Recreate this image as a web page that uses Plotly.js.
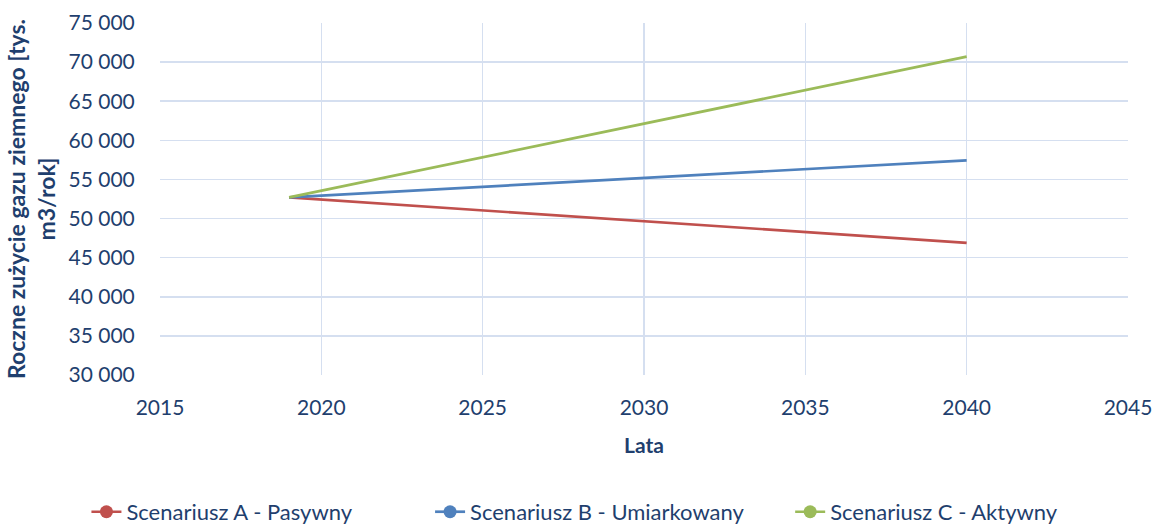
<!DOCTYPE html>
<html>
<head>
<meta charset="utf-8">
<script src="https://cdn.plot.ly/plotly-3.0.1.min.js"></script>
<style>html,body{margin:0;padding:0;background:#fff;}#chart{width:1154px;height:524px;}</style>
</head>
<body>
<div id="chart"></div>
<script>
const years = [2019, 2040];
const seriesNames = ["Scenariusz A - Pasywny", "Scenariusz B - Umiarkowany", "Scenariusz C - Aktywny"];
const scenarioA = [52700, 46900];
const scenarioB = [52700, 57450];
const scenarioC = [52700, 70700];
const colors = ["#C0504D", "#4F81BD", "#9BBB59"];
const xTicks = [2015, 2020, 2025, 2030, 2035, 2040, 2045];
const yTicks = [30000, 35000, 40000, 45000, 50000, 55000, 60000, 65000, 70000, 75000];
const yTickLabels = ["30 000","35 000","40 000","45 000","50 000","55 000","60 000","65 000","70 000","75 000"];

const allSeries = [scenarioA, scenarioB, scenarioC];
const legendIds = ["legend", "legend2", "legend3"];
const legendX = [-0.076, 0.279, 0.651];
const traces = [];
allSeries.forEach((s, i) => {
  traces.push({x: years, y: s, mode: "lines", line: {color: colors[i], width: 2.7}, showlegend: false, hoverinfo: "skip"});
});
allSeries.forEach((s, i) => {
  traces.push({x: [null], y: [null], mode: "lines+markers", name: seriesNames[i], legend: legendIds[i],
    line: {color: colors[i], width: 2.7}, marker: {color: colors[i], size: 13}});
});

const textColor = "#1F3F6E";
const fontFam = "Lato, 'Open Sans', sans-serif";
function mkLegend(x) {
  return {orientation: "h", x: x, xanchor: "left", y: -0.389, yanchor: "middle",
    font: {size: 22, color: textColor, family: fontFam}, bgcolor: "rgba(0,0,0,0)"};
}
const layout = {
  width: 1154, height: 524,
  margin: {l: 160, r: 26, t: 23, b: 149, autoexpand: false},
  paper_bgcolor: "#fff", plot_bgcolor: "#fff",
  font: {family: fontFam, color: textColor, size: 21},
  xaxis: {
    range: [2015, 2045], tickvals: xTicks, ticktext: xTicks.map(String),
    showgrid: true, gridcolor: "#D5DFF0", gridwidth: 1.5, zeroline: false,
    showline: false, ticks: "outside", ticklen: 14, tickcolor: "rgba(0,0,0,0)",
    tickfont: {size: 21, color: textColor},
    title: {text: "<b>Lata</b>", font: {size: 21, color: textColor}, standoff: 20}
  },
  yaxis: {
    range: [30000, 75000], tickvals: yTicks, ticktext: yTickLabels,
    showgrid: true, gridcolor: "#D5DFF0", gridwidth: 1.5, zeroline: false,
    showline: false, ticks: "outside", ticklen: 20, tickcolor: "rgba(0,0,0,0)",
    tickfont: {size: 21, color: textColor},
    title: {text: "<b>Roczne zużycie gazu ziemnego [tys.<br>m3/rok]</b>", font: {size: 23, color: textColor}, standoff: 6}
  },
  legend: mkLegend(legendX[0]),
  legend2: mkLegend(legendX[1]),
  legend3: mkLegend(legendX[2]),
  showlegend: true
};
Plotly.newPlot("chart", traces, layout, {displayModeBar: false, staticPlot: true});
</script>
</body>
</html>
